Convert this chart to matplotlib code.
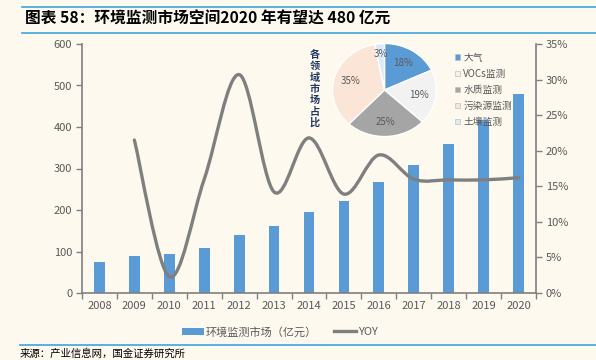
import numpy as np
import matplotlib
matplotlib.use("Agg")
import matplotlib.pyplot as plt
from matplotlib.path import Path
from matplotlib.patches import PathPatch, Patch
from matplotlib.lines import Line2D
import matplotlib.ticker as mticker

plt.rcParams['font.family'] = ['Noto Sans CJK SC', 'DejaVu Sans']

# Data
years = ['2008', '2009', '2010', '2011', '2012', '2013', '2014',
         '2015', '2016', '2017', '2018', '2019', '2020']
market = [74, 90, 93, 108, 140, 161, 195, 222, 267, 309, 359, 417, 480]
yoy = [21.5, 2.3, 16.0, 30.7, 14.2, 21.8, 13.9, 19.4, 16.0, 15.9, 15.9, 16.2]  # from 2009

pie_names = ['大气', 'VOCs监测', '水质监测', '污染源监测', '土壤监测']
pie_values = [18, 19, 25, 35, 3]
pie_labels = ['18%', '19%', '25%', '35%', '3%']

BG = '#FDF9EF'
BLUE = '#5B9BD5'
GREY_LINE = '#7F7F7F'
TEXT = '#595959'
RULE = '#3BA3DC'


def smooth_path(xs, ys):
    """Excel-like smoothed line: cubic Bezier segments through every point."""
    pts = np.column_stack([xs, ys]).astype(float)
    n = len(pts)
    verts = [pts[0]]
    codes = [Path.MOVETO]
    for i in range(n - 1):
        p0 = pts[i - 1] if i > 0 else pts[i]
        p1 = pts[i]
        p2 = pts[i + 1]
        p3 = pts[i + 2] if i + 2 < n else pts[i + 1]
        c1 = p1 + (p2 - p0) / 6.0
        c2 = p2 - (p3 - p1) / 6.0
        verts += [c1, c2, p2]
        codes += [Path.CURVE4] * 3
    return Path(verts, codes)


fig = plt.figure(figsize=(5.96, 3.6), dpi=100, facecolor=BG)

# Main axes
ax = fig.add_axes([82 / 596, 1 - 293 / 360, 454 / 596, 249 / 360])
ax.set_facecolor(BG)
x = np.arange(len(years))
ax.bar(x, market, width=0.31, color=BLUE, zorder=2)
ax.set_xlim(-0.5, len(years) - 0.5)
ax.set_ylim(0, 600)
ax.set_yticks(range(0, 601, 100))
ax.set_xticks(x)
ax.set_xticklabels(years)
ax.set_xticks(np.arange(-0.5, len(years), 1), minor=True)
ax.tick_params(axis='x', which='major', length=0, pad=6, labelsize=8, labelcolor=TEXT)
ax.tick_params(axis='x', which='minor', length=4, color=GREY_LINE, width=1)
ax.tick_params(axis='y', length=4, color=GREY_LINE, width=1, labelsize=8, labelcolor=TEXT, pad=3)
for s in ['top', 'right']:
    ax.spines[s].set_visible(False)
for s in ['left', 'bottom']:
    ax.spines[s].set_color(GREY_LINE)
    ax.spines[s].set_linewidth(1.2)

# Secondary axis for YOY
ax2 = ax.twinx()
ax2.set_ylim(0, 35)
ax2.set_yticks(range(0, 36, 5))
ax2.yaxis.set_major_formatter(mticker.FuncFormatter(lambda v, p: f'{int(v)}%'))
ax2.tick_params(axis='y', length=4, color=GREY_LINE, width=1, labelsize=8, labelcolor=TEXT, pad=3)
for s in ['top', 'left', 'bottom']:
    ax2.spines[s].set_visible(False)
ax2.spines['right'].set_color(GREY_LINE)
ax2.spines['right'].set_linewidth(1.2)
path = smooth_path(x[1:], yoy)
ax2.add_patch(PathPatch(path, facecolor='none', edgecolor=GREY_LINE, lw=2.4,
                        capstyle='round', zorder=3))

# Pie inset
pax = fig.add_axes([332 / 596, 1 - 137 / 360, 105 / 596, 94 / 360])
pax.set_facecolor('none')
wedges, _ = pax.pie(pie_values, colors=[BLUE, '#F2F2F2', '#A5A5A5', '#FBE5D6', '#DEEBF7'],
                    startangle=90, counterclock=False,
                    wedgeprops=dict(edgecolor='white', linewidth=1))
pax.set_aspect('auto')
pax.set_xlim(-1.01, 1.01)
pax.set_ylim(-1.01, 1.01)
for w, lab in zip(wedges, pie_labels):
    ang = np.deg2rad((w.theta1 + w.theta2) / 2)
    r = 0.68 if lab != '3%' else 0.78
    pax.text(r * np.cos(ang), r * np.sin(ang), lab, ha='center', va='center',
             fontsize=7, color=TEXT)

for i, ch in enumerate('各领域市场占比'):
    fig.text(315 / 596, 1 - (55 + i * 11.3) / 360, ch, ha='center', va='center',
             fontsize=7.3, fontweight='bold', color='#1F3864')

leg_p = fig.legend(wedges, pie_names, loc='upper left', bbox_to_anchor=(450 / 596, 1 - 48 / 360),
                   frameon=False, fontsize=7, handlelength=0.55, handleheight=0.55,
                   handletextpad=0.3, labelspacing=0.62, borderpad=0)
for t in leg_p.get_texts():
    t.set_color(TEXT)
for h in leg_p.legend_handles:
    h.set_edgecolor('#BFBFBF')
    h.set_linewidth(0.5)

# Bottom legend
handles = [Patch(facecolor=BLUE, edgecolor='none'),
           Line2D([0], [0], color=GREY_LINE, lw=2.4)]
leg = fig.legend(handles, ['环境监测市场（亿元）', 'YOY'], loc='center',
                 bbox_to_anchor=(280 / 596, 1 - 332 / 360), ncol=2, frameon=False,
                 fontsize=8, handlelength=2.0, handleheight=0.7, handletextpad=0.2,
                 columnspacing=1.5)
for t in leg.get_texts():
    t.set_color(TEXT)

# Title, rules and source
fig.add_artist(Line2D([22 / 596, 1], [1 - 7 / 360] * 2, color=RULE, lw=1.2))
fig.add_artist(Line2D([22 / 596, 1], [1 - 33 / 360] * 2, color=RULE, lw=1.2))
fig.add_artist(Line2D([20 / 596, 1], [1 - 345 / 360] * 2, color=RULE, lw=1.2))
fig.text(25 / 596, 1 - 19 / 360, '图表 58：环境监测市场空间2020 年有望达 480 亿元',
         ha='left', va='center', fontsize=11.3, fontweight='bold', style='italic', color='black')
fig.text(20 / 596, 1 - 354 / 360, '来源：产业信息网，国金证券研究所', ha='left', va='center',
         fontsize=7.5, color='black')

fig.savefig('out.png', dpi=100, facecolor=BG)
